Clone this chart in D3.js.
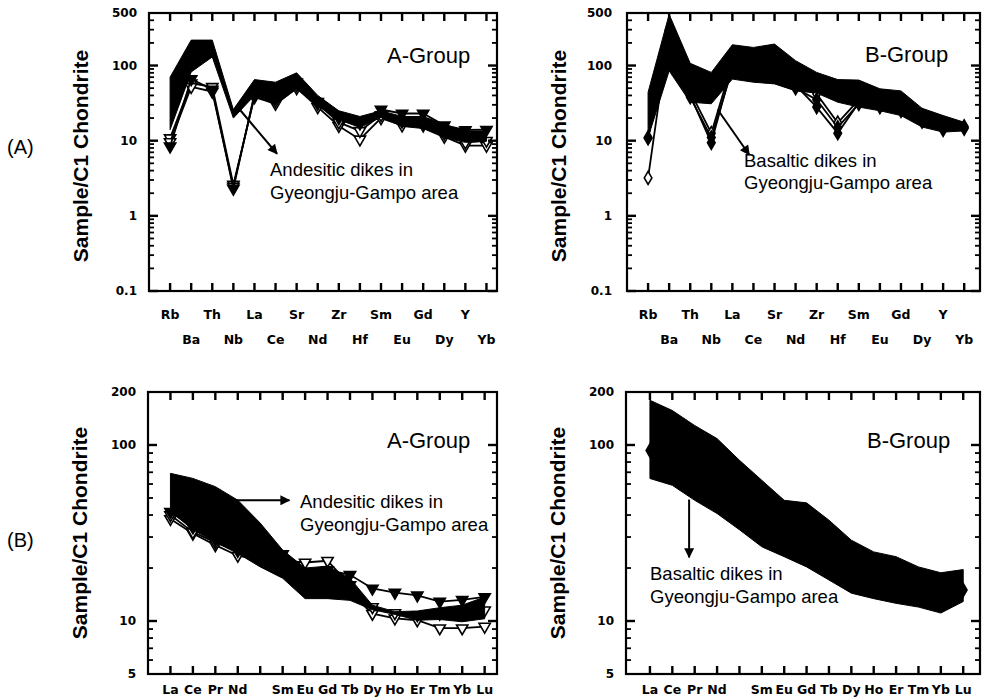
<!DOCTYPE html>
<html>
<head>
<meta charset="utf-8">
<script src="https://cdn.jsdelivr.net/npm/d3@7"></script>
<style>
  body { margin: 0; background: #fff; }
  svg { display: block; }
</style>
</head>
<body>
<svg id="fig" width="986" height="700"></svg>
<script>
// ---- element orders and tick labels ----
const spiderElements = ["Rb","Ba","Th","Nb","La","Ce","Sr","Nd","Zr","Hf","Sm","Eu","Gd","Dy","Y","Yb"];
const reeElements = ["La","Ce","Pr","Nd","Pm","Sm","Eu","Gd","Tb","Dy","Ho","Er","Tm","Yb","Lu"];
const reeLabels = ["La","Ce","Pr","Nd","","Sm","Eu","Gd","Tb","Dy","Ho","Er","Tm","Yb","Lu"];
const spiderTickLabels = [0.1, 1, 10, 100, 500];
const reeTickLabels = [5, 10, 100, 200];

// ---- A-Group, trace-element spider diagram ----
const aSpiderUpper = [70, 218, 218, 26, 65, 60, 80, 40, 25, 21, 25, 21, 21, 16.5, 13.5, 13.5];
const aSpiderLower = [14, 82, 130, 20, 40, 30, 49, 29, 19, 15, 20.5, 15.5, 14.5, 11, 9.5, 9.8];
const andesiteSpiderOpen1 = [10.8, 58, 52, 2.6, 38, 31, 50, 28, 15.7, 10.4, 20, 16, 16, 11.3, 8.6, 8.6];
const andesiteSpiderFilled = [8.4, 66, 48, 2.3, 42, 38, 60, 33, 20, 17, 26, 23, 23, 16, 13.9, 14];
const andesiteSpiderOpen2 = [9.6, 52, 45, 2.45, 40, 34, 55, 31, 17.5, 13.5, 22, 18, 17, 12.5, 9.5, 10];

// ---- B-Group, trace-element spider diagram ----
const bSpiderUpper = [44, 480, 107, 81, 189, 174, 193, 116, 81, 65, 64, 49, 46, 27, 21.6, 17.6];
const bSpiderLower = [11, 85, 32.5, 31, 66, 60, 57, 46, 43, 32.5, 28, 25, 21.6, 15.2, 13, 13.5];
const basaltSpiderFilled = [11, 250, 40, 9.4, 100, 95, 100, 55, 28, 12.6, 32, 30, 27, 19, 14, 15];
const basaltSpiderOpen = [3.2, 300, 45, 12.6, 110, 100, 110, 60, 42, 17.3, 35, 32, 28, 20, 16.5, 15.5];
const basaltSpiderFilled2 = [10.8, 220, 38, 11, 90, 85, 90, 50, 35, 15, 31, 28, 25, 18, 15, 14.5];

// ---- A-Group, REE pattern ----
const aReeUpper = [69, 64.6, 58, 48.6, 36, 25.3, 20, 20.5, 17.5, 12.3, 11.3, 11.4, 11.9, 12.3, 13.7];
const aReeLower = [42, 33, 28, 24.2, 20.3, 17.5, 13.4, 13.4, 13.1, 11.6, 10.9, 10.1, 10.2, 9.9, 10.3];
const andesiteReeFilled = [41.7, 34, 29, 25.5, null, 24, 19, 19.5, 18.3, 15.3, 14.5, 14, 12.9, 13.2, 13.7];
const andesiteReeOpen1 = [40, 32, 28, 25, null, 22, 21.5, 22, 16, 12, 11.1, 10.8, 11, 11, 11.5];
const andesiteReeOpen2 = [38, 31.4, 27, 23.5, null, 21, 18, 17.5, 14.5, 11, 10.35, 10.1, 9.1, 9.1, 9.3];

// ---- B-Group, REE pattern ----
const bReeUpper = [179.5, 157, 129, 108.7, 81.9, 63, 48.5, 46.9, 37.4, 28.8, 24.7, 23.2, 20.3, 18.8, 19.6];
const bReeLower = [64.5, 59, 48.5, 40.8, 33, 26.4, 23.2, 20.3, 17.1, 14.4, 13.4, 12.6, 12.0, 11.1, 12.9];
const basaltRee = [93, 85, 75, 63, null, 42, 34, 31, 26, 20, 18, 17, 15.5, 14.5, 15];

// ---- drawing ----
const svg = d3.select("#fig");
const tickFont = "'DejaVu Sans', sans-serif";
const textFont = "'Liberation Sans', Arial, sans-serif";

svg.append("defs").append("marker")
  .attr("id", "arrowhead")
  .attr("viewBox", "0 0 10 10")
  .attr("refX", 9).attr("refY", 5)
  .attr("markerWidth", 6).attr("markerHeight", 5)
  .attr("markerUnits", "strokeWidth")
  .attr("orient", "auto")
  .append("path").attr("d", "M0,0 L10,5 L0,10 Z").attr("fill", "#000");

const triDown = d3.symbol().type(d3.symbolTriangle).size(55);
const diamond = d3.symbol().type(d3.symbolDiamond).size(50);

// tick lengths in px
const majorTickLen = 9, minorTickLen = 5, catTickLen = 8;

function drawPanel(p) {
  const x = d3.scaleLinear().domain(p.xDomain).range([p.left, p.right]);
  const y = d3.scaleLog().domain(p.yDomain).range([p.bottom, p.top]);
  const g = svg.append("g");
  const n = p.categories.length;
  const idx = d3.range(n);

  // individual dike samples (the group envelope is laid over them)
  p.samples.forEach(s => {
    const pts = s.values.map((v, i) => [i, v]).filter(d => d[1] != null);
    g.append("path")
      .datum(pts)
      .attr("d", d3.line().x(d => x(d[0])).y(d => y(d[1])))
      .attr("fill", "none").attr("stroke", "#000").attr("stroke-width", 1.8);
    g.selectAll(null).data(pts).enter().append("path")
      .attr("d", s.shape === "tri" ? triDown : diamond)
      .attr("transform", d => `translate(${x(d[0])},${y(d[1])})` + (s.shape === "tri" ? " rotate(180)" : ""))
      .attr("fill", s.open ? "#fff" : "#000")
      .attr("stroke", "#000").attr("stroke-width", 1.6);
  });

  // envelope of the group
  const env = idx.map(i => ({ i, lo: p.lower[i], hi: p.upper[i] }));
  g.append("path")
    .datum(env)
    .attr("d", d3.area().x(d => x(d.i)).y0(d => y(d.lo)).y1(d => y(d.hi)))
    .attr("fill", "#000").attr("stroke", "#000").attr("stroke-width", 1);

  // frame
  g.append("rect")
    .attr("x", p.left).attr("y", p.top)
    .attr("width", p.right - p.left).attr("height", p.bottom - p.top)
    .attr("fill", "none").attr("stroke", "#000").attr("stroke-width", 2.2);

  // category ticks on top and bottom edges, pointing inward
  const tickLayer = g.append("g").attr("fill", "#000");
  idx.forEach(i => {
    const xx = x(i);
    tickLayer.append("rect").attr("x", xx - 1.2).attr("y", p.bottom - catTickLen).attr("width", 2.4).attr("height", catTickLen);
    tickLayer.append("rect").attr("x", xx - 1.2).attr("y", p.top).attr("width", 2.4).attr("height", catTickLen);
  });

  // log ticks on both sides: long at decades, short in between
  const isDecade = v => Math.abs(Math.log10(v) - Math.round(Math.log10(v))) < 1e-6;
  y.ticks().forEach(v => {
    const yy = y(v);
    const major = isDecade(v);
    const len = major ? majorTickLen : minorTickLen;
    const th = major ? 2.4 : 1.8;
    tickLayer.append("rect").attr("x", p.left).attr("y", yy - th / 2).attr("width", len).attr("height", th);
    tickLayer.append("rect").attr("x", p.right - len).attr("y", yy - th / 2).attr("width", len).attr("height", th);
  });

  // y tick labels
  const yl = g.append("g").attr("transform", `translate(${p.left},0)`)
    .call(d3.axisLeft(y).tickValues(p.yLabels).tickSize(0).tickPadding(p.yLabelPad).tickFormat(d3.format("~g")));
  yl.select(".domain").remove();
  yl.selectAll(".tick text")
    .attr("font-family", tickFont).attr("font-weight", "bold")
    .attr("font-size", 12).attr("fill", "#000");

  // category labels
  p.labels.forEach((lab, i) => {
    if (!lab) return;
    const row = p.twoRows ? i % 2 : 0;
    g.append("text")
      .attr("x", x(i)).attr("y", p.labelBase + row * 25)
      .attr("text-anchor", "middle")
      .attr("font-family", tickFont).attr("font-weight", "bold")
      .attr("font-size", 12.5).text(lab);
  });

  // y axis title
  g.append("text")
    .attr("transform", `translate(${p.left - 61},${p.titleY}) rotate(-90)`)
    .attr("text-anchor", "middle")
    .attr("font-family", textFont).attr("font-weight", "bold")
    .attr("font-size", 21).text("Sample/C1 Chondrite");

  // group name
  g.append("text")
    .attr("x", p.left + p.group.dx).attr("y", p.top + p.group.dy)
    .attr("font-family", textFont).attr("font-size", 22).text(p.group.text);

  // annotation
  p.note.lines.forEach((t, k) => {
    g.append("text")
      .attr("x", p.left + p.note.dx).attr("y", p.top + p.note.dy + k * 22.5)
      .attr("font-family", textFont).attr("font-size", 18.5).text(t);
  });
  g.append("line")
    .attr("x1", x(p.arrow[0][0])).attr("y1", y(p.arrow[0][1]))
    .attr("x2", x(p.arrow[1][0])).attr("y2", y(p.arrow[1][1]))
    .attr("stroke", "#000").attr("stroke-width", 2)
    .attr("marker-end", "url(#arrowhead)");
}

const spiderY = [0.1, 500];
const reeY = [5, 200];

drawPanel({
  left: 149, right: 497, top: 13, bottom: 291,
  xDomain: [-1, 15.5], yDomain: spiderY,
  categories: spiderElements, labels: spiderElements, twoRows: true, labelBase: 319,
  yLabels: spiderTickLabels, yLabelPad: 12, titleY: 156,
  upper: aSpiderUpper, lower: aSpiderLower,
  samples: [
    { values: andesiteSpiderOpen1, shape: "tri", open: true },
    { values: andesiteSpiderOpen2, shape: "tri", open: true },
    { values: andesiteSpiderFilled, shape: "tri", open: false }
  ],
  group: { text: "A-Group", dx: 238, dy: 50 },
  note: { lines: ["Andesitic dikes in", "Gyeongju-Gampo area"], dx: 121, dy: 163 },
  arrow: [[3.3, 26], [5.07, 6.7]]
});

drawPanel({
  left: 627, right: 980, top: 13, bottom: 291,
  xDomain: [-1, 15.75], yDomain: spiderY,
  categories: spiderElements, labels: spiderElements, twoRows: true, labelBase: 319,
  yLabels: spiderTickLabels, yLabelPad: 15, titleY: 156,
  upper: bSpiderUpper, lower: bSpiderLower,
  samples: [
    { values: basaltSpiderOpen, shape: "dia", open: true },
    { values: basaltSpiderFilled2, shape: "dia", open: false },
    { values: basaltSpiderFilled, shape: "dia", open: false }
  ],
  group: { text: "B-Group", dx: 238, dy: 49 },
  note: { lines: ["Basaltic dikes in", "Gyeongju-Gampo area"], dx: 117, dy: 153.5 },
  arrow: [[3.3, 26], [4.8, 6.5]]
});

drawPanel({
  left: 148, right: 497, top: 392, bottom: 674,
  xDomain: [-1, 14.55], yDomain: reeY,
  categories: reeElements, labels: reeLabels, twoRows: false, labelBase: 694,
  yLabels: reeTickLabels, yLabelPad: 12, titleY: 533,
  upper: aReeUpper, lower: aReeLower,
  samples: [
    { values: andesiteReeOpen2, shape: "tri", open: true },
    { values: andesiteReeOpen1, shape: "tri", open: true },
    { values: andesiteReeFilled, shape: "tri", open: false }
  ],
  group: { text: "A-Group", dx: 239, dy: 56 },
  note: { lines: ["Andesitic dikes in", "Gyeongju-Gampo area"], dx: 152, dy: 116 },
  arrow: [[2.5, 48.5], [5.3, 48.5]]
});

drawPanel({
  left: 626, right: 980, top: 392, bottom: 674,
  xDomain: [-1.07, 14.75], yDomain: reeY,
  categories: reeElements, labels: reeLabels, twoRows: false, labelBase: 694,
  yLabels: reeTickLabels, yLabelPad: 12, titleY: 533,
  upper: bReeUpper, lower: bReeLower,
  samples: [
    { values: basaltRee, shape: "dia", open: false }
  ],
  group: { text: "B-Group", dx: 241, dy: 56 },
  note: { lines: ["Basaltic dikes in", "Gyeongju-Gampo area"], dx: 24, dy: 188 },
  arrow: [[1.75, 49], [1.75, 23]]
});

// row letters
svg.append("text").attr("x", 7).attr("y", 154)
  .attr("font-family", textFont).attr("font-size", 20).text("(A)");
svg.append("text").attr("x", 7).attr("y", 547)
  .attr("font-family", textFont).attr("font-size", 20).text("(B)");
</script>
</body>
</html>
